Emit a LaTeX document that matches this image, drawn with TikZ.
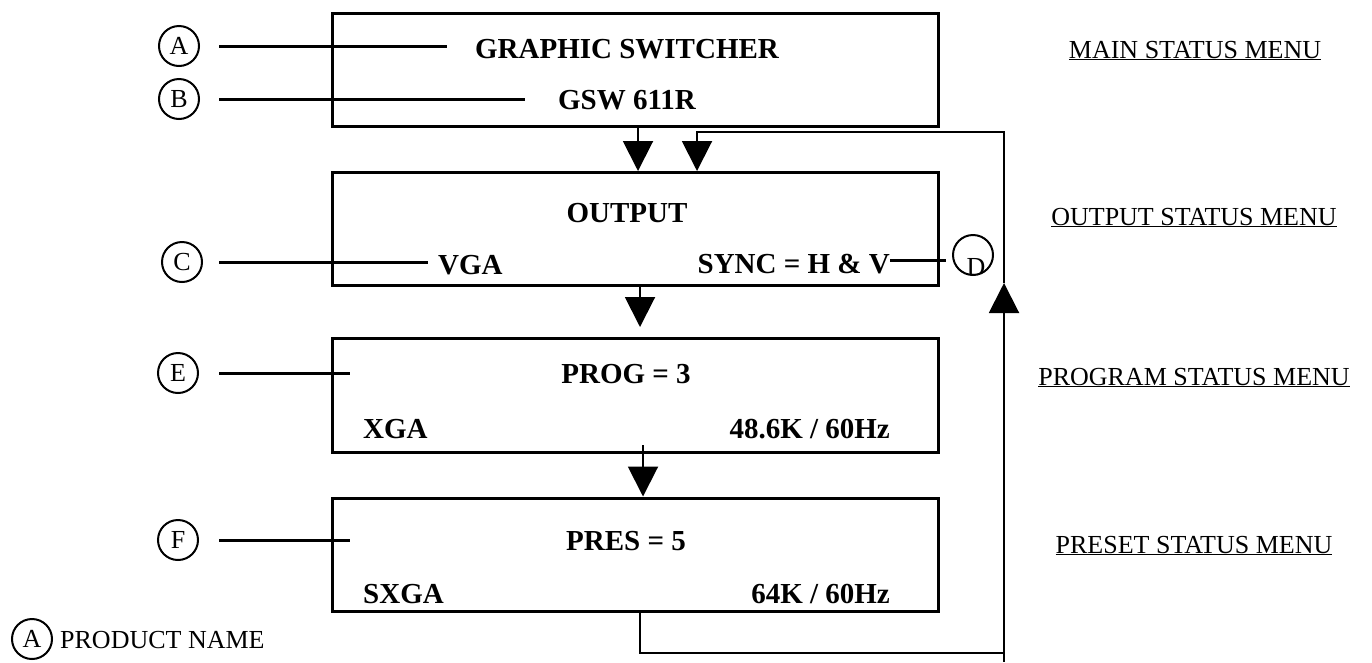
\documentclass[tikz,border=0pt]{standalone}
\usepackage{fontspec}
\setmainfont{Liberation Serif}
\usetikzlibrary{arrows.meta}

\begin{document}
\begin{tikzpicture}[x=1pt,y=-1pt,
    menubox/.style={draw, line width=3pt, minimum width=606pt, minimum height=113pt, inner sep=0pt},
    boxtext/.style={font=\fontsize{29}{34}\selectfont\bfseries, inner sep=0pt},
    menuname/.style={font=\fontsize{26}{30}\selectfont, inner sep=0pt, anchor=base},
    tag/.style={draw, circle, line width=2pt, minimum size=40pt, inner sep=0pt, font=\fontsize{26}{30}\selectfont},
    leader/.style={line width=3pt},
    flow/.style={line width=2pt, -{Triangle[width=30pt,length=30pt]}}]
  \useasboundingbox (0,0) rectangle (1372,662);

  % menu screens
  \node[menubox] (main) at (635,69.5) {};
  \node[menubox] (output) at (635,229) {};
  \node[menubox, minimum height=114pt] (program) at (635,395.5) {};
  \node[menubox] (preset) at (635,554.5) {};

  \node[boxtext, anchor=base] (title) at (627,58) {GRAPHIC SWITCHER};
  \node[boxtext, anchor=base] (model) at (627,109) {GSW 611R};
  \node[boxtext, anchor=base] (outname) at (627,222) {OUTPUT};
  \node[boxtext, anchor=base west] (vga) at (438,274) {VGA};
  \node[boxtext, anchor=base east] (sync) at (890,273) {SYNC = H \& V};
  \node[boxtext, anchor=base] (prog) at (626,383) {PROG = 3};
  \node[boxtext, anchor=base west] (xga) at (363,438) {XGA};
  \node[boxtext, anchor=base east] (prograte) at (890,438) {48.6K / 60Hz};
  \node[boxtext, anchor=base] (pres) at (626,550) {PRES = 5};
  \node[boxtext, anchor=base west] (sxga) at (363,603) {SXGA};
  \node[boxtext, anchor=base east] (presrate) at (890,603) {64K / 60Hz};

  % menu names
  \node[menuname] (mainlbl) at (1195,58) {\underline{MAIN STATUS MENU}};
  \node[menuname] (outputlbl) at (1194,225) {\underline{OUTPUT STATUS MENU}};
  \node[menuname] (programlbl) at (1194,385) {\underline{PROGRAM STATUS MENU}};
  \node[menuname] (presetlbl) at (1194,553) {\underline{PRESET STATUS MENU}};

  % callouts
  \node[tag] (tagA) at (179,46) {A};
  \node[tag] (tagB) at (179,99) {B};
  \node[tag] (tagC) at (182,262) {C};
  \node[tag] (tagD) at (973,255) {};
  \node[menuname] (tagDletter) at (976,275) {D};
  \node[tag] (tagE) at (178,373) {E};
  \node[tag] (tagF) at (178,540) {F};

  \draw[leader, shorten <=19pt, shorten >=28pt] (tagA.east) -- (tagA.east -| title.west);
  \draw[leader, shorten <=19pt, shorten >=33pt] (tagB.east) -- (tagB.east -| model.west);
  \draw[leader, shorten <=16pt, shorten >=10pt] (tagC.east) -- (tagC.east -| vga.west);
  \draw[leader, shorten >=6pt] ([yshift=3pt]sync.east) -- ([yshift=3pt]sync.east -| tagD.west);
  \draw[leader, shorten <=20pt] (tagE.east) -- ([xshift=19pt]tagE.east -| program.west);
  \draw[leader, shorten <=20pt] (tagF.east) -- ([xshift=19pt]tagF.east -| preset.west);

  % menu flow
  \draw[flow] ([xshift=3pt]main.south) -- ([xshift=3pt]output.north);
  \draw[flow, shorten >=10pt] ([xshift=5pt]output.south) -- ([xshift=5pt]program.north);
  \draw[flow] ([xshift=8pt,yshift=9pt]program.south) -- ([xshift=8pt]preset.north);

  % return loop
  \coordinate (loopstart) at ([xshift=5pt]preset.south);
  \coordinate (loopbr) at (1004,653);
  \coordinate (loopup) at (1004,283);
  \coordinate (looptr) at (1004,132);
  \draw[flow] (loopstart) |- (loopbr) -- (loopup);
  \draw[flow] (loopup) -- (looptr) -| ([xshift=62pt]output.north);
  \draw[line width=2pt] (loopbr) -- ++(0,9);

  % key
  \node[tag] (keyA) at (32,639) {A};
  \node[menuname, anchor=base west] (keyAtext) at (60,648) {PRODUCT NAME};
\end{tikzpicture}
\end{document}
